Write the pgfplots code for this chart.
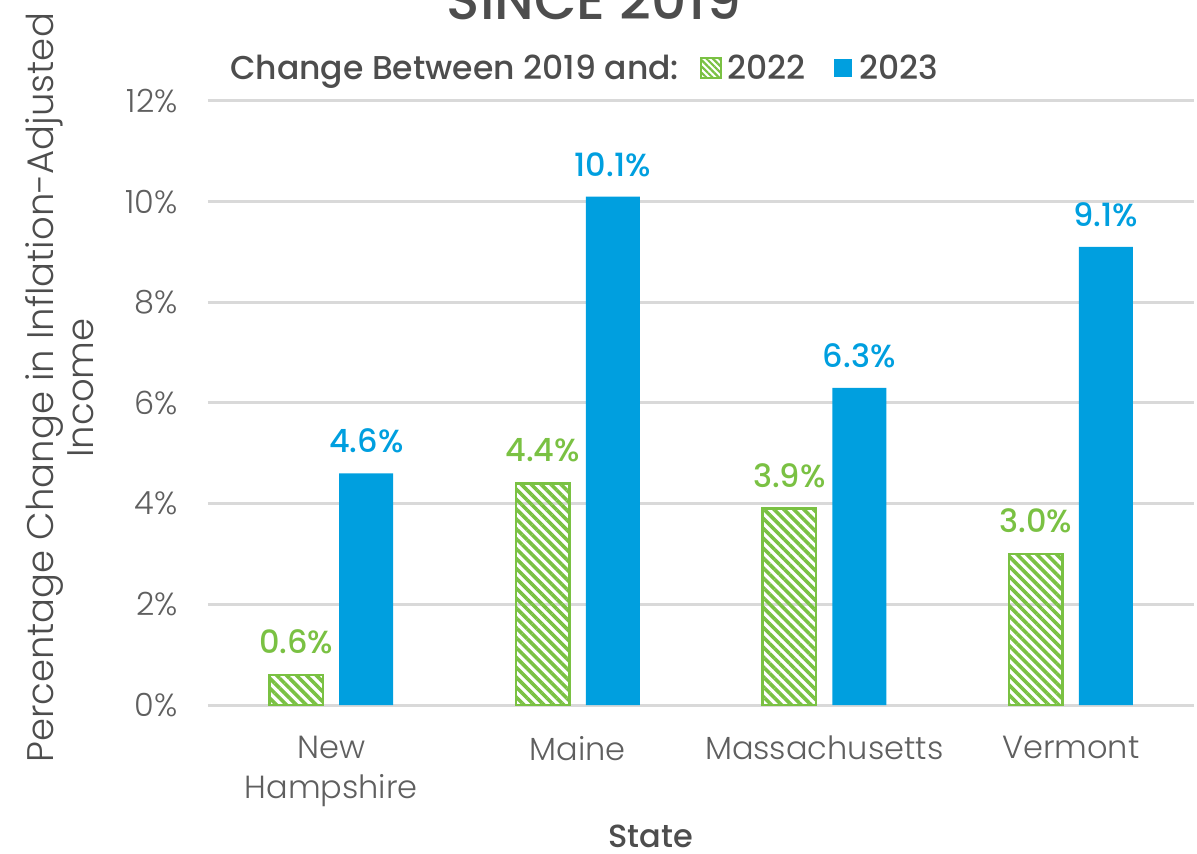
\documentclass[border=0pt]{standalone}
\usepackage{fontspec}
\setmainfont{Poppins}[UprightFont={* Light}, BoldFont={* Medium}]
\usepackage{pgfplots}
\pgfplotsset{compat=1.18}
\usetikzlibrary{patterns.meta}
\definecolor{cgreen}{HTML}{7AC143}
\definecolor{cblue}{HTML}{009FDF}
\definecolor{cgrid}{HTML}{D9D9D9}
\definecolor{ctick}{HTML}{5F5F5F}
\definecolor{cdark}{HTML}{4D4D4D}
\pgfplotsset{/pgf/number format/assume math mode=true}
\begin{document}
\begin{tikzpicture}
\begin{axis}[
  at={(0pt,0pt)}, anchor=south west,
  scale only axis, width=986pt, height=604pt,
  xmin=-0.5, xmax=3.5, ymin=0, ymax=12,
  clip=false,
  axis line style={draw=none},
  major tick length=0pt,
  ymajorgrids, grid style={cgrid, line width=3pt},
  xtick={0,1,2,3},
  xticklabels={{New\\Hampshire},Maine,Massachusetts,Vermont},
  xticklabel style={align=center, font=\fontsize{32}{40}\selectfont, text=ctick, inner sep=0pt, anchor=north, yshift=-31pt},
  ytick={0,2,4,6,8,10,12},
  yticklabel={\pgfmathprintnumber{\tick}\%},
  yticklabel style={font=\fontsize{32}{40}\selectfont, text=ctick, inner sep=0pt, anchor=east, xshift=-30pt},
  xlabel={\bfseries State},
  every axis x label/.style={at={(axis description cs:0.449,-0.2170)}, anchor=center, font=\fontsize{32}{40}\selectfont, text=cdark},
  ylabel={Percentage Change in Inflation-Adjusted\\Income},
  every axis y label/.style={at={(axis description cs:-0.1501,0.525)}, rotate=90, anchor=center, align=center, font=\fontsize{37}{40}\selectfont, text=cdark},
  title={\bfseries SINCE 2019},
  title style={at={(axis description cs:0.3915,1.1258)}, anchor=base, font=\fontsize{55}{64}\selectfont, text=cdark},
  legend columns=-1,
  legend style={at={(axis description cs:0.0223,1.0546)}, anchor=west, draw=none, fill=none, inner sep=0pt,
    font=\bfseries\fontsize{33}{40}\selectfont, text=cdark, nodes={inner sep=0pt}},
  nodes near coords={\pgfmathprintnumber[fixed,precision=1,fixed zerofill]{\pgfplotspointmeta}\%},
  every node near coord/.append style={font=\bfseries\fontsize{32}{40}\selectfont, inner sep=0pt, yshift=20pt},
]
\addlegendimage{empty legend}
\addlegendentry{Change Between 2019 and:\kern21pt\null}
\addplot[ybar, bar width=53.5pt, bar shift=-35pt, draw=cgreen, line width=2.5pt,
  pattern={Lines[angle=-45,distance=7pt,line width=3.6pt]}, pattern color=cgreen,
  every node near coord/.append style={text=cgreen, xshift=-35pt},
  legend image code/.code={\draw[draw=cgreen, line width=1.5pt, pattern={Lines[angle=-45,distance=4.5pt,line width=2.2pt]}, pattern color=cgreen] (0pt,-10pt) rectangle (20pt,10pt);}]
  coordinates {(0,0.6) (1,4.4) (2,3.9) (3,3.0)};
\addlegendentry{\null\kern5pt 2022\kern28pt\null}
\addplot[ybar, bar width=54pt, bar shift=35pt, draw=none, fill=cblue,
  every node near coord/.append style={text=cblue, xshift=35pt},
  legend image code/.code={\fill[cblue] (0pt,-9pt) rectangle (18pt,9pt);}]
  coordinates {(0,4.6) (1,10.1) (2,6.3) (3,9.1)};
\addlegendentry{\null\kern8pt 2023}
\end{axis}
\pgfresetboundingbox
\path[use as bounding box] (-208pt,-149pt) rectangle (989pt,705pt);
\end{tikzpicture}
\end{document}
